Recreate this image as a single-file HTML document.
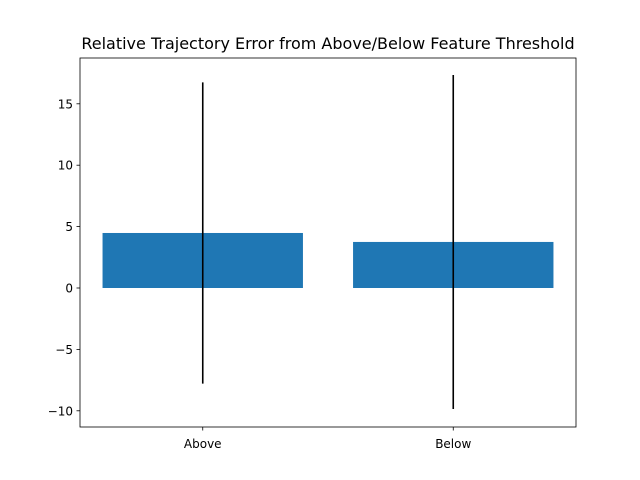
<!DOCTYPE html>
<html><head><meta charset="utf-8"><style>
body{margin:0;background:#fff;}
svg{display:block;font-family:"DejaVu Sans","Liberation Sans",sans-serif;}
</style></head><body>
<svg id="chart" width="640" height="480">
<rect width="640" height="480" fill="#fff"/>
<text x="328" y="49" text-anchor="middle" font-size="16" fill="#000">Relative Trajectory Error from Above/Below Feature Threshold</text>
<g id="plot"></g>
</svg>
<script>
const categories = ["Above", "Below"];
const values = [4.48, 3.75];
const errors = [12.27, 13.6];
const yTicks = [-10, -5, 0, 5, 10, 15];
const yTickLabels = ["\u221210", "\u22125", "0", "5", "10", "15"];

const L = 80, R = 576, T = 58, B = 427;
const yMin = -11.32, yMax = 18.73, xMin = -0.49, xMax = 1.49;
const ys = v => B - (v - yMin) / (yMax - yMin) * (B - T);
const xs = v => L + (v - xMin) / (xMax - xMin) * (R - L);
const NS = "http://www.w3.org/2000/svg";
const g = document.getElementById("plot");
function mk(tag, attrs) { const e = document.createElementNS(NS, tag); for (const k in attrs) e.setAttribute(k, attrs[k]); g.appendChild(e); return e; }

categories.forEach((c, i) => {
  const x0 = xs(i - 0.4), x1 = xs(i + 0.4);
  const yt = ys(Math.max(values[i], 0)), yb = ys(Math.min(values[i], 0));
  const bar = mk("rect", {x: x0, y: yt, width: x1 - x0, height: yb - yt, fill: "#1f77b4"});
  
  
});
categories.forEach((c, i) => {
  const ln = mk("line", {x1: xs(i), x2: xs(i), y1: ys(values[i] + errors[i]), y2: ys(values[i] - errors[i]), stroke: "#000", "stroke-width": 1.6});
  
  
  const tk = mk("line", {x1: xs(i), x2: xs(i), y1: B, y2: B + 3.5, stroke: "#000", "stroke-width": 0.8});
  
  
  const t = mk("text", {x: xs(i), y: B + 21, "text-anchor": "middle", "font-size": 12, fill: "#000"});
  t.textContent = c;
  
  
});
yTicks.forEach((v, i) => {
  const tk = mk("line", {x1: L - 3.5, x2: L, y1: ys(v), y2: ys(v), stroke: "#000", "stroke-width": 0.8});
  
  
  const t = mk("text", {x: L - 7, y: ys(v) + 4.5, "text-anchor": "end", "font-size": 12, fill: "#000"});
  t.textContent = yTickLabels[i];
  
  
});
const frame = mk("rect", {x: L, y: T, width: R - L, height: B - T, fill: "none", stroke: "#000", "stroke-width": 0.8});


</script>
</body></html>
